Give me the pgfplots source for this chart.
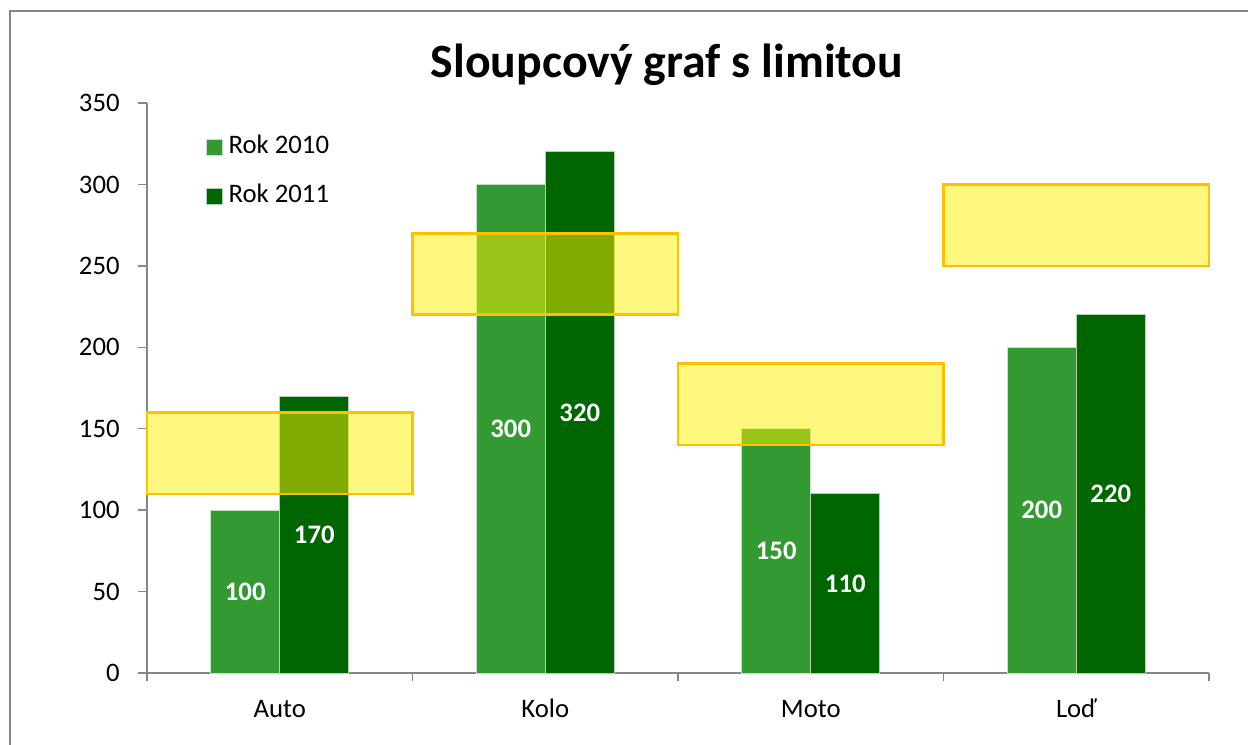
\documentclass[border=0pt]{standalone}
\usepackage{fontspec}
\setmainfont{Carlito}
\usepackage{pgfplots}
\pgfplotsset{compat=1.18}
\definecolor{gA}{HTML}{339933}
\definecolor{gB}{HTML}{006600}
\definecolor{axgray}{HTML}{868686}
\definecolor{bandline}{HTML}{FFC000}
\begin{document}
\begin{tikzpicture}[x=1cm,y=1cm]
\useasboundingbox (0,0) rectangle (12.48,7.44);
\draw[axgray, line width=0.015cm] (0.10,-0.5) -- (0.10,7.33) -- (13,7.33);
\node[anchor=base, font=\fontsize{13.6}{16}\selectfont\bfseries] at (6.67,6.67) {Sloupcový graf s limitou};
\begin{axis}[
  at={(1.47cm,0.71cm)}, anchor=south west,
  scale only axis, width=10.62cm, height=5.70cm,
  xmin=-0.5, xmax=3.5, ymin=0, ymax=350,
  axis lines*=left,
  axis line style={axgray, line width=0.015cm},
  tick style={axgray, line width=0.015cm},
  tick align=outside,
  ytick={0,50,...,350},
  major tick length=0.09cm,
  minor tick length=0.08cm,
  xtick={0,1,2,3},
  xticklabels={Auto,Kolo,Moto,Loď},
  major x tick style={draw=none},
  minor xtick={-0.5,0.5,1.5,2.5,3.5},
  tick label style={font=\fontsize{7.6}{9}\selectfont, text=black},
  /pgf/number format/assume math mode=true,
  yticklabel style={xshift=-0.06cm},
  xticklabel style={yshift=0.04cm, text height=1.6ex, text depth=0.3ex},
  clip=false,
  legend style={draw=none, fill=none, at={(0.0546,0.955)}, anchor=north west,
    font=\fontsize{7.6}{9}\selectfont, inner sep=0pt, row sep=0.13cm,
    nodes={inner sep=0.06cm}},
  legend cell align=left,
  legend image code/.code={\fill[#1] (0cm,-0.08cm) rectangle (0.16cm,0.08cm);},
]
\addplot[ybar, bar width=0.26, bar shift=-0.13, fill=gA, draw=white!70!gA, line width=0.01cm]
  coordinates {(0,100) (1,300) (2,150) (3,200)};
\addlegendentry{Rok 2010}
\addplot[ybar, bar width=0.26, bar shift=0.13, fill=gB, draw=white!70!gB, line width=0.01cm]
  coordinates {(0,170) (1,320) (2,110) (3,220)};
\addlegendentry{Rok 2011}
% limit bands
\addplot[forget plot, fill=yellow, fill opacity=0.5, draw=bandline, line width=0.025cm]
  coordinates {(-0.5,110) (0.5,110) (0.5,160) (-0.5,160)} -- cycle;
\addplot[forget plot, fill=yellow, fill opacity=0.5, draw=bandline, line width=0.025cm]
  coordinates {(0.5,220) (1.5,220) (1.5,270) (0.5,270)} -- cycle;
\addplot[forget plot, fill=yellow, fill opacity=0.5, draw=bandline, line width=0.025cm]
  coordinates {(1.5,140) (2.5,140) (2.5,190) (1.5,190)} -- cycle;
\addplot[forget plot, fill=yellow, fill opacity=0.5, draw=bandline, line width=0.025cm]
  coordinates {(2.5,250) (3.5,250) (3.5,300) (2.5,300)} -- cycle;
% value labels at bar centres
\addplot[forget plot, draw=none, mark=none, nodes near coords, point meta=explicit symbolic,
  nodes near coords style={anchor=center, text=white, font=\fontsize{7.6}{9}\selectfont\bfseries}]
  coordinates {(-0.13,50)[100] (0.87,150)[300] (1.87,75)[150] (2.87,100)[200]
               (0.13,85)[170] (1.13,160)[320] (2.13,55)[110] (3.13,110)[220]};
\end{axis}
\end{tikzpicture}
\end{document}
